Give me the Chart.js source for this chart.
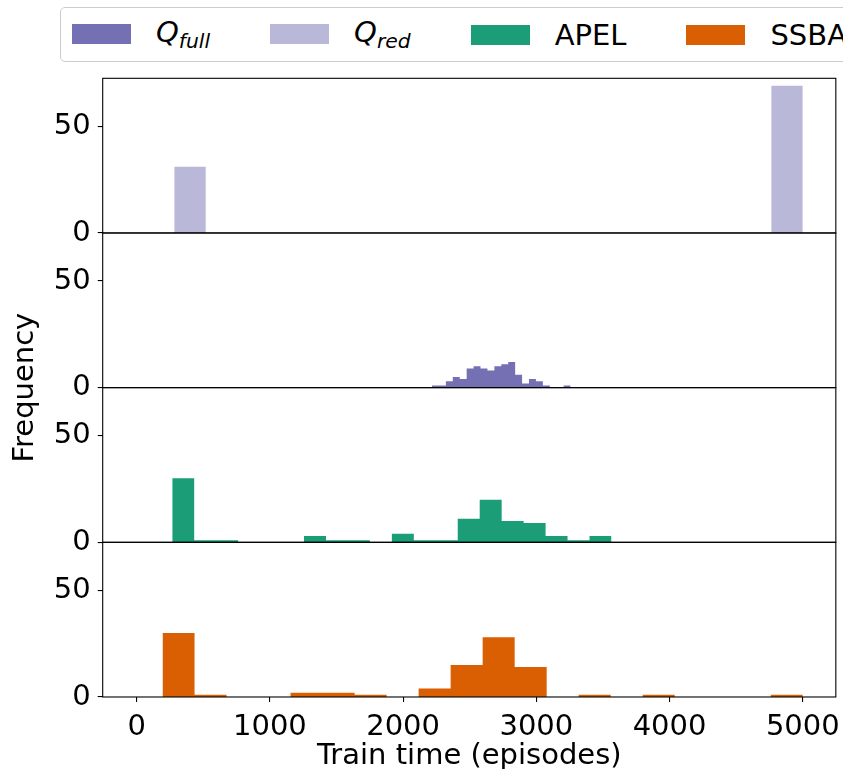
<!DOCTYPE html>
<html>
<head>
<meta charset="utf-8">
<script src="https://cdn.jsdelivr.net/npm/chart.js@4/dist/chart.umd.min.js"></script>
<style>
  html, body { margin: 0; padding: 0; background: #fff; overflow: hidden; }
  #wrap { position: relative; width: 843px; height: 769px; overflow: hidden; }
  #legend {
    position: absolute; left: 60px; top: 7px; height: 55px; width: 840px;
    border: 1.4px solid #cccccc; border-radius: 5px; background: #fff;
    display: flex; align-items: center; padding-left: 11px; box-sizing: border-box;
    font-family: "DejaVu Sans"; font-size: 29px; color: #000; white-space: nowrap;
  }
  .item { display: flex; align-items: center; margin-right: 60px; }
  .sw { width: 59px; height: 20px; margin-right: 25px; }
  .item sub { font-size: 0.7em; vertical-align: -0.3em; font-style: italic; }
</style>
</head>
<body>
<div id="wrap">
  <canvas id="histChart" width="843" height="769"></canvas>
  <div id="legend"></div>
</div>
<script>
    // legend order and colours
    var seriesNames = ['Q_full', 'Q_red', 'APEL', 'SSBA'];
    var seriesColors = ['#7570b3', '#bab8d9', '#1b9e77', '#d95f02'];

    // 20-bin histograms, counts; range = [first edge, last edge]
    var qRedRange = [282, 5000];
    var qRedCounts = [31, 0, 0, 0, 0, 0, 0, 0, 0, 0, 0, 0, 0, 0, 0, 0, 0, 0, 0, 69];
    var qFullRange = [2217, 3257];
    var qFullCounts = [1, 1, 3, 5, 4, 9, 10, 9, 8, 10, 11, 12, 6, 2, 4, 3, 1, 0, 0, 1];
    var apelRange = [267, 3564];
    var apelCounts = [30, 1, 1, 0, 0, 0, 3, 1, 1, 0, 4, 1, 1, 11, 20, 10, 9, 3, 1, 3];
    var ssbaRange = [194, 5000];
    var ssbaCounts = [30, 1, 0, 0, 2, 2, 1, 0, 4, 15, 28, 14, 0, 1, 0, 1, 0, 0, 0, 1];

    var xTicks = [0, 1000, 2000, 3000, 4000, 5000];
    var yTicks = [0, 50];
    var xLimits = [-255, 5248];
    var yMax = 72.5;

    // bin edges -> stepped points (last edge closes the bar down to 0)
    function histPoints(range, counts) {
        var w = (range[1] - range[0]) / counts.length;
        var pts = counts.map(function (c, i) { return { x: range[0] + i * w, y: c }; });
        pts.push({ x: range[1], y: 0 });
        return pts;
    }

    function histSet(label, range, counts, color, axis) {
        return {
            label: label,
            data: histPoints(range, counts),
            yAxisID: axis,
            stepped: true,
            fill: 'origin',
            backgroundColor: color,
            borderColor: 'rgba(0,0,0,0)',
            borderWidth: 0,
            pointRadius: 0,
            tension: 0
        };
    }

    var tickFont = { family: 'DejaVu Sans', size: 29 };

    function panelAxis() {
        return {
            type: 'linear',
            position: 'left',
            stack: 'hist',
            stackWeight: 1,
            min: 0,
            max: yMax,
            afterBuildTicks: function (s) { s.ticks = yTicks.map(function (v) { return { value: v }; }); },
            ticks: { font: tickFont, color: '#000', padding: 7, callback: function (v) { return String(v); } },
            grid: { display: true, drawOnChartArea: false, drawTicks: true, tickLength: 5, color: '#000', lineWidth: 1.1 },
            border: { display: false }
        };
    }

    var panelIds = ['yD', 'yC', 'yB', 'yA'];

    var framePlugin = {
        id: 'frame',
        afterDraw: function (chart) {
            var ctx = chart.ctx, area = chart.chartArea;
            ctx.save();
            ctx.strokeStyle = '#000';
            ctx.lineWidth = 1.1;
            panelIds.forEach(function (id) {
                var s = chart.scales[id];
                ctx.strokeRect(area.left, s.top, area.right - area.left, s.bottom - s.top);
            });
            ctx.restore();
        }
    };

    var ctx = document.getElementById('histChart').getContext('2d');
    var myChart = new Chart(ctx, {
        type: 'line',
        data: {
            datasets: [
                histSet(seriesNames[1], qRedRange, qRedCounts, seriesColors[1], 'yA'),
                histSet(seriesNames[0], qFullRange, qFullCounts, seriesColors[0], 'yB'),
                histSet(seriesNames[2], apelRange, apelCounts, seriesColors[2], 'yC'),
                histSet(seriesNames[3], ssbaRange, ssbaCounts, seriesColors[3], 'yD')
            ]
        },
        options: {
            responsive: false,
            animation: false,
            devicePixelRatio: 1,
            layout: { padding: { top: 78.3, right: 7, bottom: 0.3, left: 0 } },
            plugins: { legend: { display: false }, tooltip: { enabled: false } },
            scales: {
                x: {
                    type: 'linear',
                    min: xLimits[0],
                    max: xLimits[1],
                    afterBuildTicks: function (s) { s.ticks = xTicks.map(function (v) { return { value: v }; }); },
                    ticks: { font: { family: 'DejaVu Sans', size: 29, lineHeight: 1.566 }, color: '#000', padding: 3,
                             maxRotation: 0, callback: function (v) { return String(v); } },
                    grid: { display: true, drawOnChartArea: false, drawTicks: true, tickLength: 5, color: '#000', lineWidth: 1.1 },
                    border: { display: false },
                    title: { display: true, text: 'Train time (episodes)', color: '#000',
                             font: { family: 'DejaVu Sans', size: 29, lineHeight: 0.193 }, padding: { top: 0, bottom: 9.7 } }
                },
                yD: panelAxis(),
                yC: panelAxis(),
                yB: panelAxis(),
                yA: panelAxis(),
                yLabel: {
                    type: 'linear',
                    position: 'left',
                    min: 0,
                    max: 1,
                    ticks: { display: false },
                    grid: { display: false, drawTicks: false },
                    border: { display: false },
                    title: { display: true, text: 'Frequency', color: '#000',
                             font: { family: 'DejaVu Sans', size: 29 }, padding: { top: 8.1, bottom: 3.9 } }
                }
            }
        },
        plugins: [framePlugin]
    });

    // html legend, built from the same names and colours
    var legend = document.getElementById('legend');
    seriesNames.forEach(function (name, i) {
        var item = document.createElement('div');
        item.className = 'item';
        var sw = document.createElement('span');
        sw.className = 'sw';
        sw.style.background = seriesColors[i];
        item.appendChild(sw);
        var txt = document.createElement('span');
        var parts = name.split('_');
        if (parts.length > 1) {
            txt.innerHTML = '<i>' + parts[0] + '</i><sub>' + parts[1] + '</sub>';
        } else {
            txt.textContent = name;
        }
        item.appendChild(txt);
        legend.appendChild(item);
    });
</script>
</body>
</html>
